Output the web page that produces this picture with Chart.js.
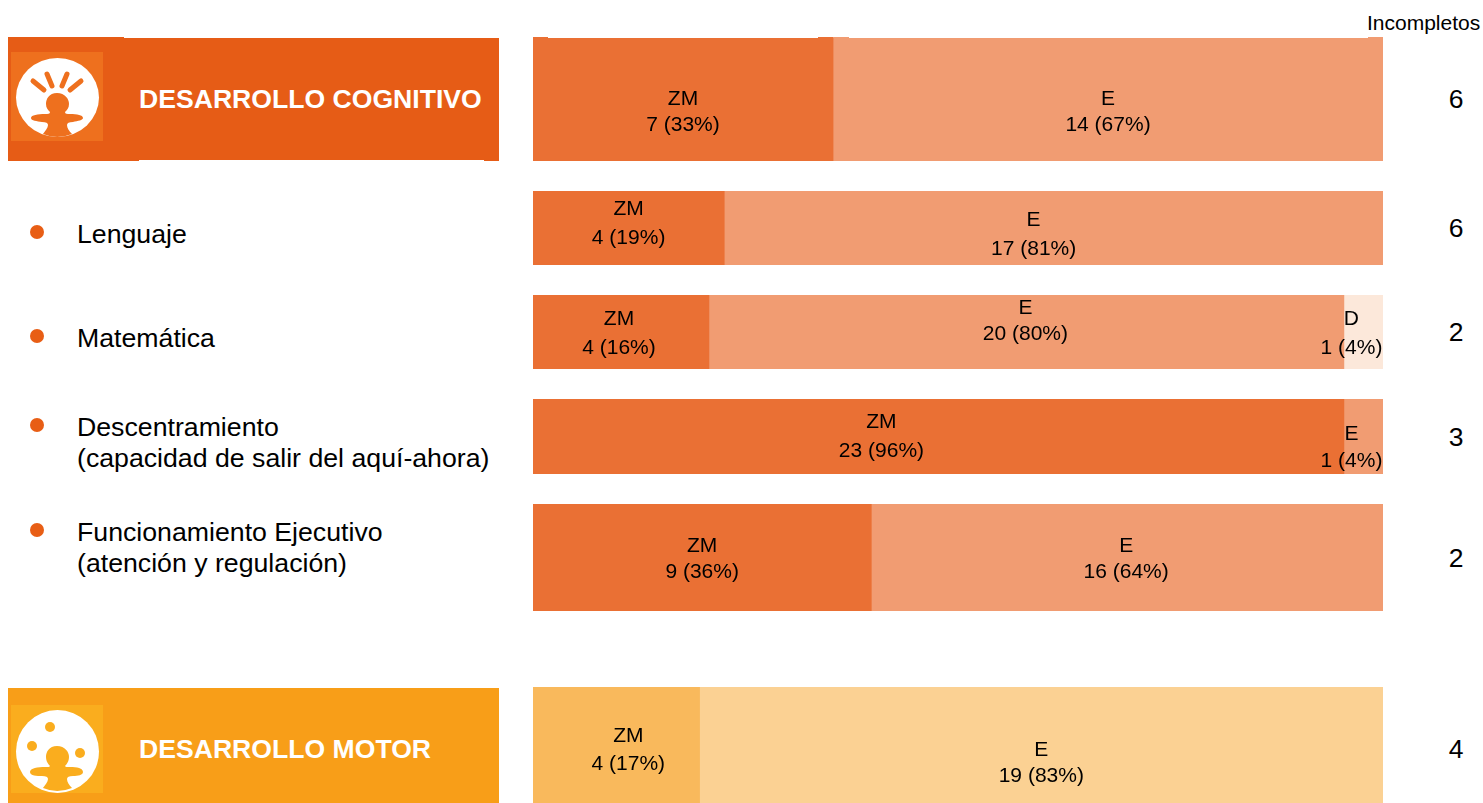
<!DOCTYPE html>
<html>
<head>
<meta charset="utf-8">
<title>Desarrollo cognitivo y motor</title>
<script src="https://cdn.jsdelivr.net/npm/chart.js@4/dist/chart.umd.min.js"></script>
<style>
  html, body { margin: 0; padding: 0; background: #fff; overflow: hidden; }
  body { width: 1483px; height: 803px; position: relative; font-family: "Liberation Sans", Arial, sans-serif; color: #000; }
  canvas { position: absolute; left: 533px; }
  .txt { position: absolute; white-space: nowrap; line-height: 30px; height: 30px; margin-top: -15px; }
  .name { left: 77px; font-size: 26.7px; }
  .num { left: 1416px; width: 80px; text-align: center; font-size: 26.5px; }
  .head { position: absolute; left: 8px; width: 491px; }
  .head b { position: absolute; left: 131px; color: #fff; font-size: 26.6px; line-height: 30px; white-space: nowrap; }
  .head svg { position: absolute; left: 3px; }
  .dot { position: absolute; left: 30px; width: 14px; height: 14px; margin-top: -7px; border-radius: 50%; background: #e85e15; }
  .step { position: absolute; top: 37px; height: 1px; }
</style>
</head>
<body>
<div class="head" style="top:37px;height:124px;background:#e65c16;clip-path:polygon(0 0,116px 0,116px 1px,100% 1px,100% 100%,476px 100%,476px 123px,131px 123px,131px 100%,0 100%)">
  <b style="top:47px">DESARROLLO COGNITIVO</b>
  <svg style="top:15px" width="92" height="89" viewBox="0 0 92 89">
    <rect width="92" height="89" fill="#ee701e"/>
    <ellipse cx="46.5" cy="45.5" rx="41.5" ry="39.5" fill="#fff"/>
    <g stroke="#ee701e" stroke-width="5" stroke-linecap="round" fill="none">
      <path d="M22 29 L33 38"/><path d="M36 22 L41 34"/><path d="M56 22 L51 34"/><path d="M70 29 L59 38"/>
    </g>
    <path d="M46 41 C38 41 35 47 35 52 C35 56 37 58 39 60 C39 62 37 62 34 62 C27 62 20 63 20 66 C20 69 26 69 31 70 C35 70 37 71 37 73 C37 76 34 79 32 82 Q46 88 61 82 C58 79 56 76 56 73 C56 71 58 70 62 70 C67 69 72 68 72 66 C72 63 66 62 59 62 C56 62 54 62 54 60 C56 58 58 56 58 52 C58 47 54 41 46 41 Z" fill="#ee701e"/>
  </svg>
</div>
<div class="head" style="top:688px;height:115px;background:#f89e18">
  <b style="top:46px">DESARROLLO MOTOR</b>
  <svg style="top:17px" width="92" height="88" viewBox="0 0 92 88">
    <rect width="92" height="88" fill="#faad1e"/>
    <circle cx="46.5" cy="46.5" r="41.5" fill="#fff"/>
    <g fill="#faad1e">
      <circle cx="39" cy="22" r="5"/><circle cx="21" cy="41" r="5"/><circle cx="69" cy="48" r="5"/>
      <path d="M46 41 C38 41 35 47 35 52 C35 56 37 59 39 61 C39 62 37 62 34 62 C27 62 19 63 19 67 C19 71 26 71 31 71 C35 71 37 72 37 74 C37 77 34 80 32 83 Q46 89 61 83 C58 80 56 77 56 74 C56 72 58 71 62 71 C67 71 72 70 72 67 C72 63 66 62 59 62 C56 62 54 62 54 61 C56 59 58 56 58 52 C58 47 54 41 46 41 Z"/>
    </g>
  </svg>
</div>
<div class="step" style="left:533px;width:15px;background:#ea7034"></div>
<div class="step" style="left:818px;width:15px;background:#ea7034"></div>
<div class="step" style="left:833px;width:16px;background:#f19c72"></div>
<div class="step" style="left:1368px;width:15px;background:#f19c72"></div>
<div class="txt" style="left:1367px;top:23px;font-size:21px">Incompletos</div>
<script>
// values
const rowNames = ['Desarrollo cognitivo', 'Lenguaje', 'Matemática', 'Descentramiento', 'Funcionamiento Ejecutivo', 'Desarrollo motor'];
// drawn width of each segment, share of the full bar
const zmShare = [35.3, 22.5, 20.7, 95.4, 39.8, 19.6];
const eShare = [64.7, 77.5, 74.7, 4.6, 60.2, 80.4];
const dShare = [0, 0, 4.6, 0, 0, 0];
const zmCount = [7, 4, 4, 23, 9, 4];
const zmPct = [33, 19, 16, 96, 36, 17];
const eCount = [14, 17, 20, 1, 16, 19];
const ePct = [67, 81, 80, 4, 64, 83];
const dCount = [0, 0, 1, 0, 0, 0];
const dPct = [0, 0, 4, 0, 0, 0];
const incompletos = [6, 6, 2, 3, 2, 4];

// layout
const rowTop = [38, 191, 295, 399, 504, 687];
const rowBottom = [161, 265, 369, 474, 611, 803];
const numY = [99, 228, 332, 437, 558, 749];
const zmColor = ['#ea7034', '#ea7034', '#ea7034', '#ea7034', '#ea7034', '#f9b95c'];
const eColor = ['#f19c72', '#f19c72', '#f19c72', '#f19c72', '#f19c72', '#fbd193'];
// label nudges: [dx from segment centre, y of line 1, y of line 2] on the page
const zmPos = [[0, 99, 125], [0, 209, 238], [-2, 319, 348], [-57, 422, 451], [0, 546, 572], [12, 736, 764]];
const ePos = [[0, 99, 125], [-20, 220, 249], [-1, 308, 334], [-12, 434, 461], [-1, 546, 572], [0, 750, 776]];
const dPos = [null, null, [-12, 319, 348], null, null, null];
const nameLines = [[], [['Lenguaje', 234]], [['Matemática', 338]],
  [['Descentramiento', 427], ['(capacidad de salir del aquí-ahora)', 458]],
  [['Funcionamiento Ejecutivo', 532], ['(atención y regulación)', 563]], []];
const dotY = [null, 232, 336, 425, 530, null];

const segmentLabels = {
  id: 'segmentLabels',
  afterDatasetsDraw(chart) {
    const ctx = chart.ctx;
    const top = chart.canvas.offsetTop;
    ctx.save();
    ctx.font = '21px "Liberation Sans", Arial, sans-serif';
    ctx.fillStyle = '#000';
    ctx.textAlign = 'center';
    ctx.textBaseline = 'middle';
    chart.data.datasets.forEach((ds, i) => {
      if (!ds.pos) return;
      const bar = chart.getDatasetMeta(i).data[0];
      const x = (bar.x + bar.base) / 2 + ds.pos[0];
      ctx.fillText(ds.label, x, ds.pos[1] - top);
      ctx.fillText(ds.text, x, ds.pos[2] - top);
    });
    ctx.restore();
  }
};

rowNames.forEach((name, r) => {
  const canvas = document.createElement('canvas');
  canvas.width = 850;
  canvas.height = rowBottom[r] - rowTop[r];
  canvas.style.top = rowTop[r] + 'px';
  document.body.appendChild(canvas);

  const common = { barPercentage: 1, categoryPercentage: 1, borderWidth: 0 };
  const datasets = [
    { ...common, label: 'ZM', data: [zmShare[r]], backgroundColor: zmColor[r],
      text: zmCount[r] + ' (' + zmPct[r] + '%)', pos: zmPos[r] },
    { ...common, label: 'E', data: [eShare[r]], backgroundColor: eColor[r],
      text: eCount[r] + ' (' + ePct[r] + '%)', pos: ePos[r] }
  ];
  if (dShare[r] > 0) {
    datasets.push({ ...common, label: 'D', data: [dShare[r]], backgroundColor: '#fce8da',
      text: dCount[r] + ' (' + dPct[r] + '%)', pos: dPos[r] });
  }

  new Chart(canvas, {
    type: 'bar',
    data: { labels: [name], datasets: datasets },
    options: {
      indexAxis: 'y',
      responsive: false,
      animation: false,
      layout: { padding: 0 },
      scales: {
        x: { stacked: true, min: 0, max: 100, display: false },
        y: { stacked: true, display: false }
      },
      plugins: { legend: { display: false }, tooltip: { enabled: false } }
    },
    plugins: [segmentLabels]
  });

  const num = document.createElement('div');
  num.className = 'txt num';
  num.style.top = numY[r] + 'px';
  num.textContent = incompletos[r];
  document.body.appendChild(num);

  nameLines[r].forEach(line => {
    const el = document.createElement('div');
    el.className = 'txt name';
    el.style.top = line[1] + 'px';
    el.textContent = line[0];
    document.body.appendChild(el);
  });
  if (dotY[r] !== null) {
    const dot = document.createElement('div');
    dot.className = 'dot';
    dot.style.top = dotY[r] + 'px';
    document.body.appendChild(dot);
  }
});
</script>
</body>
</html>
